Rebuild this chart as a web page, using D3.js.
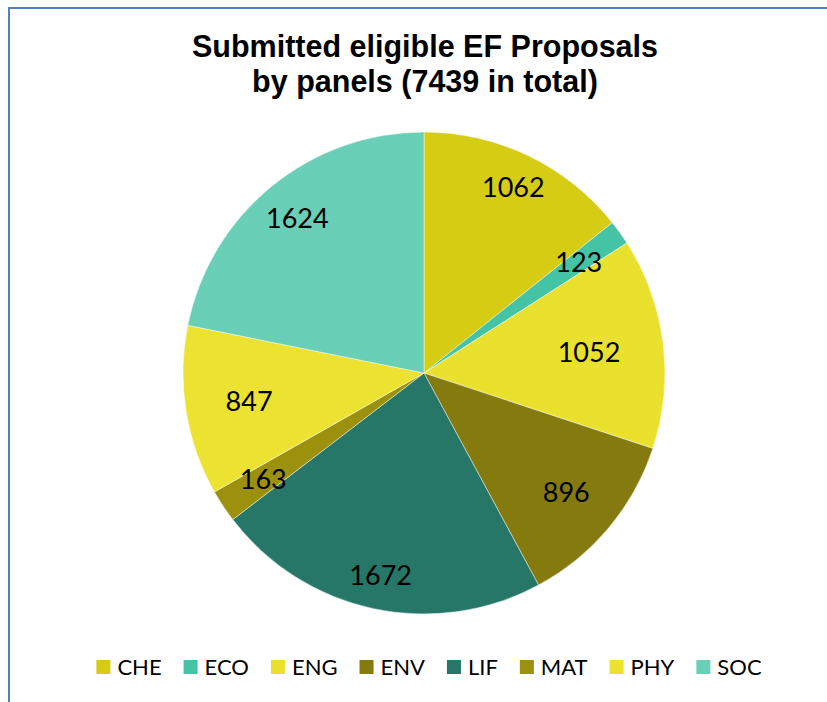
<!DOCTYPE html>
<html>
<head>
<meta charset="utf-8">
<script src="https://cdn.jsdelivr.net/npm/d3@7"></script>
<style>
  html, body { margin: 0; padding: 0; background: #fff; }
  svg { display: block; }
</style>
</head>
<body>
<svg id="chart" width="827" height="702"></svg>
<script>
// ---- data ----
const categories = ["CHE", "ECO", "ENG", "ENV", "LIF", "MAT", "PHY", "SOC"];
const values = [1062, 123, 1052, 896, 1672, 163, 847, 1624];
const colors = ["#d6cc14", "#44c3a5", "#e9e12e", "#857a0e", "#267767", "#9c910d", "#ebe232", "#69cfb7"];
// label radius as fraction of pie radius (mimics Excel "best fit" placement)
const labelRadius = [0.855, 0.79, 0.69, 0.77, 0.86, 0.80, 0.735, 0.83];
const titleLines = ["Submitted eligible EF Proposals", "by panels (7439 in total)"];

const svg = d3.select("#chart");
const W = 827, H = 702;

// frame (top and left border only visible)
svg.append("path")
  .attr("d", `M9,${H} L9,8 L${W},8`)
  .attr("fill", "none")
  .attr("stroke", "#4f81bd")
  .attr("stroke-width", 2);

// title
const title = svg.append("text")
  .attr("text-anchor", "middle")
  .attr("font-family", "'Liberation Sans', Arial, sans-serif")
  .attr("font-weight", "bold")
  .attr("font-size", 30.5)
  .attr("fill", "#000");
titleLines.forEach((t, i) => {
  title.append("tspan").attr("x", 425).attr("y", 57 + i * 35).text(t);
});

// pie
const cx = 424, cy = 373, R = 241;
const pie = d3.pie().value(d => d.v).sort(null);
const arcs = pie(categories.map((c, i) => ({ c, v: values[i], i })));
const arc = d3.arc().innerRadius(0).outerRadius(R);

const g = svg.append("g").attr("transform", `translate(${cx},${cy})`);
g.selectAll("path.slice")
  .data(arcs)
  .join("path")
  .attr("class", "slice")
  .attr("d", arc)
  .attr("fill", d => colors[d.data.i])
  .attr("stroke", "#ffffff")
  .attr("stroke-opacity", 0.6)
  .attr("stroke-width", 0.75);

g.selectAll("text.lbl")
  .data(arcs)
  .join("text")
  .attr("class", "lbl")
  .attr("transform", d => {
    const r = R * labelRadius[d.data.i];
    const a = (d.startAngle + d.endAngle) / 2;
    return `translate(${r * Math.sin(a)},${-r * Math.cos(a)})`;
  })
  .attr("text-anchor", "middle")
  .attr("dy", "0.36em")
  .attr("font-family", "Lato, 'Open Sans', sans-serif")
  .attr("font-size", 27)
  .attr("fill", "#000")
  .text(d => d.data.v);

// legend
const legend = svg.append("g");
const fs = 22, sq = 14, gapSqText = 7, gapItem = 22;
const items = legend.selectAll("g.item").data(categories).join("g").attr("class", "item");
items.append("rect")
  .attr("width", sq).attr("height", sq)
  .attr("y", 660)
  .attr("fill", (d, i) => colors[i]);
const texts = items.append("text")
  .attr("x", sq + gapSqText)
  .attr("y", 667)
  .attr("dy", "0.36em")
  .attr("font-family", "Lato, 'Open Sans', sans-serif")
  .attr("font-size", fs)
  .attr("fill", "#000")
  .text(d => d);
const widths = [];
texts.each(function () { widths.push(this.getComputedTextLength()); });
const total = widths.reduce((a, w) => a + sq + gapSqText + w, 0) + gapItem * (widths.length - 1);
let start = 429 - total / 2;
items.attr("transform", (d, i) => {
  const t = `translate(${start},0)`;
  start += sq + gapSqText + widths[i] + gapItem;
  return t;
});
</script>
</body>
</html>
